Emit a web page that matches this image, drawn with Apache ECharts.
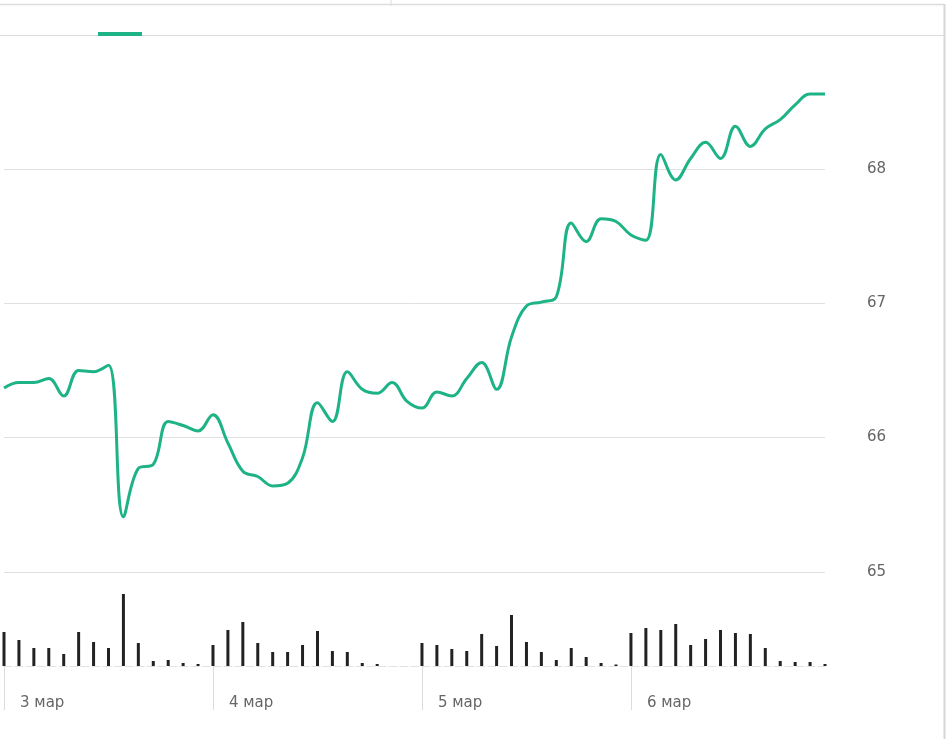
<!DOCTYPE html>
<html>
<head>
<meta charset="utf-8">
<script src="https://cdn.jsdelivr.net/npm/echarts@6/dist/echarts.min.js"></script>
<style>
  html, body { margin: 0; padding: 0; background: #fff; }
  #chart { width: 947px; height: 739px; }
</style>
</head>
<body>
<div id="chart"></div>
<script>
// days on the x axis, 14 hourly bars each
const days = ['3 мар', '4 мар', '5 мар', '6 мар']
const hours = ['10:00', '11:00', '12:00', '13:00', '14:00', '15:00', '16:00',
  '17:00', '18:00', '19:00', '20:00', '21:00', '22:00', '23:00']

const price = [
  66.37, 66.41, 66.41, 66.44, 66.31, 66.50, 66.49, 66.54, 65.41, 65.77, 65.80, 66.12, 66.09, 66.05,
  66.17, 65.96, 65.75, 65.71, 65.64, 65.66, 65.85, 66.26, 66.12, 66.49, 66.36, 66.33, 66.41, 66.27,
  66.22, 66.34, 66.31, 66.44, 66.56, 66.36, 66.75, 66.98, 67.01, 67.05, 67.60, 67.46, 67.63, 67.61,
  67.51, 67.47, 68.11, 67.92, 68.08, 68.20, 68.08, 68.32, 68.17, 68.30, 68.37, 68.48, 68.56, 68.56
]

const volume = [
  34, 26, 18, 18, 12, 34, 24, 18, 72, 23, 5, 6, 3, 2,
  21, 36, 44, 23, 14, 14, 21, 35, 15, 14, 3, 2, 0, 0,
  23, 21, 17, 15, 32, 20, 51, 24, 14, 6, 18, 9, 3, 1.5,
  33, 38, 36, 42, 21, 27, 36, 33, 32, 18, 5, 4, 4, 2
]

const priceTicks = [65, 66, 67, 68]

const categories = []
days.forEach(d => hours.forEach(h => categories.push(d + ' ' + h)))

const green = '#1eb386'
const font = 'DejaVu Sans'
const perDay = hours.length

const chart = echarts.init(document.getElementById('chart'))
const option = {
  animation: false,
  legend: {
    left: 93,
    top: 27,
    icon: 'rect',
    itemWidth: 44,
    itemHeight: 4,
    formatter: function () { return '' },
    data: ['Цена']
  },
  graphic: [
    { type: 'line', shape: { x1: 0, y1: 4.5, x2: 944, y2: 4.5 }, style: { stroke: '#dcdcdc', lineWidth: 1.5 }, silent: true },
    { type: 'line', shape: { x1: 391, y1: 0, x2: 391, y2: 6 }, style: { stroke: '#dcdcdc', lineWidth: 1 }, silent: true },
    { type: 'line', shape: { x1: 0, y1: 35.5, x2: 944, y2: 35.5 }, style: { stroke: '#dcdcdc', lineWidth: 1 }, silent: true },
    { type: 'line', shape: { x1: 944.5, y1: 4, x2: 944.5, y2: 739 }, style: { stroke: '#d6d6d6', lineWidth: 2 }, silent: true }
  ],
  grid: [
    { left: 4, right: 122, top: 35, bottom: 33 },
    { left: 4, right: 122, top: 566, bottom: 73 }
  ],
  xAxis: [{
    gridIndex: 0,
    type: 'category',
    data: categories,
    boundaryGap: false,
    show: false
  }, {
    gridIndex: 1,
    type: 'category',
    data: categories,
    boundaryGap: false,
    axisLine: { lineStyle: { color: '#e2e2e2', width: 1, type: [8, 3] } },
    axisTick: {
      length: 44,
      interval: function (i) { return i % perDay === 0 },
      lineStyle: { color: '#dcdcdc', width: 1 }
    },
    axisLabel: {
      interval: function (i) { return i % perDay === 0 },
      formatter: function (v) { return days[Math.floor(categories.indexOf(v) / perDay)] },
      align: 'left',
      padding: [2, 0, 0, 16],
      margin: 28,
      color: '#666',
      fontFamily: font,
      fontSize: 15
    },
    splitLine: { show: false }
  }],
  yAxis: [{
    gridIndex: 0,
    type: 'value',
    position: 'right',
    min: 64,
    max: 69,
    interval: 1,
    axisLine: { show: false },
    axisTick: { show: false },
    axisLabel: {
      margin: 42,
      padding: [4, 0, 0, 0],
      color: '#666',
      fontFamily: font,
      fontSize: 15,
      formatter: function (v) { return priceTicks.indexOf(v) >= 0 ? String(v) : '' }
    },
    splitLine: {
      showMinLine: false,
      showMaxLine: false,
      lineStyle: { color: '#e0e0e0', width: 1 }
    }
  }, {
    gridIndex: 1,
    type: 'value',
    min: 0,
    max: 100,
    show: false,
    splitLine: { show: false }
  }],
  series: [{
    name: 'Цена',
    type: 'line',
    xAxisIndex: 0,
    yAxisIndex: 0,
    data: price,
    smooth: 0.4,
    showSymbol: false,
    itemStyle: { color: green },
    lineStyle: { color: green, width: 3 },
    z: 5
  }, {
    name: 'Объём',
    type: 'bar',
    xAxisIndex: 1,
    yAxisIndex: 1,
    data: volume,
    barWidth: 3,
    itemStyle: { color: '#222' }
  }]
}
chart.setOption(option)
</script>
</body>
</html>
